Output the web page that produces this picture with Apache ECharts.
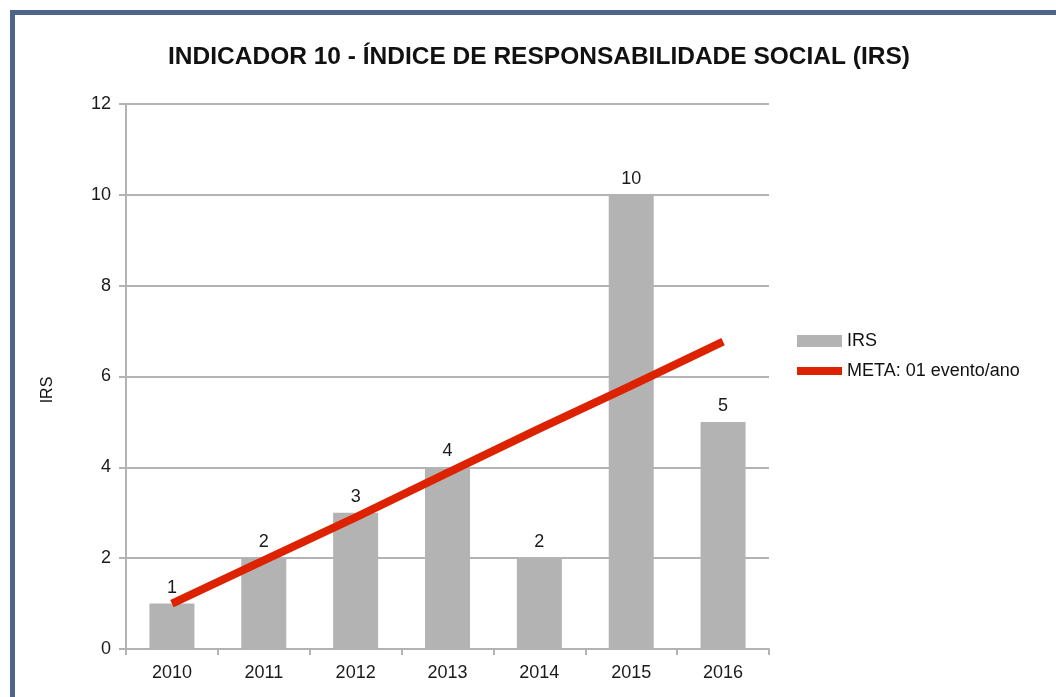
<!DOCTYPE html>
<html>
<head>
<meta charset="utf-8">
<script src="https://cdn.jsdelivr.net/npm/echarts@6/dist/echarts.min.js"></script>
<style>
html, body { margin: 0; padding: 0; background: #fff; }
#chart { width: 1056px; height: 697px; }
</style>
</head>
<body>
<div id="chart"></div>
<script>
var years = ['2010', '2011', '2012', '2013', '2014', '2015', '2016'];
var irs = [1, 2, 3, 4, 2, 10, 5];
var meta = [1, 1.95, 2.9, 3.88, 4.85, 5.8, 6.77];
var yTicks = [0, 2, 4, 6, 8, 10, 12];

var chart = echarts.init(document.getElementById('chart'));
var font = 'Liberation Sans';

chart.setOption({
  animation: false,
  textStyle: { fontFamily: font },
  graphic: [{
    type: 'rect',
    shape: { x: 12.5, y: 12.5, width: 1200, height: 1200 },
    style: { fill: 'none', stroke: '#4e6587', lineWidth: 5 }
  }],
  title: {
    text: 'INDICADOR 10 - ÍNDICE DE RESPONSABILIDADE SOCIAL (IRS)',
    left: 534,
    textAlign: 'center',
    top: 40,
    textStyle: { fontSize: 24.5, fontWeight: 'bold', color: '#111', fontFamily: font }
  },
  legend: {
    orient: 'vertical',
    left: 792,
    top: 327,
    itemWidth: 45,
    itemHeight: 12,
    itemGap: 12,
    textStyle: { fontSize: 18, color: '#111', fontFamily: font },
    data: [
      { name: 'IRS', icon: 'rect' },
      { name: 'META: 01 evento/ano', icon: 'path://M0,0 L45,0 L45,8 L0,8 Z' }
    ]
  },
  grid: { left: 126, right: 287, top: 104, bottom: 48, containLabel: false },
  xAxis: {
    type: 'category',
    data: years,
    axisLine: { lineStyle: { color: '#b3b3b3', width: 2 } },
    axisTick: { show: true, length: 6, lineStyle: { color: '#b3b3b3', width: 2 } },
    axisLabel: { fontSize: 18, color: '#1a1a1a', margin: 15 }
  },
  yAxis: {
    type: 'value',
    min: yTicks[0],
    max: yTicks[yTicks.length - 1],
    interval: 2,
    name: 'IRS',
    nameLocation: 'middle',
    nameRotate: 90,
    nameGap: 70,
    nameTextStyle: { fontSize: 16, color: '#111', padding: [0, 27, 0, 0] },
    axisLine: { show: true, lineStyle: { color: '#b3b3b3', width: 2 } },
    axisTick: { show: true, length: 7, lineStyle: { color: '#b3b3b3', width: 2 } },
    splitLine: { lineStyle: { color: '#b3b3b3', width: 2 } },
    axisLabel: { fontSize: 18, color: '#1a1a1a', margin: 15 }
  },
  series: [
    {
      name: 'IRS',
      type: 'bar',
      data: irs,
      barWidth: 45,
      itemStyle: { color: '#b3b3b3' },
      label: { show: true, position: 'top', distance: 7, fontSize: 18, color: '#1a1a1a' }
    },
    {
      name: 'META: 01 evento/ano',
      type: 'line',
      data: meta,
      showSymbol: false,
      symbol: 'none',
      lineStyle: { color: '#dd2200', width: 8 },
      itemStyle: { color: '#dd2200' }
    }
  ]
});
</script>
</body>
</html>
